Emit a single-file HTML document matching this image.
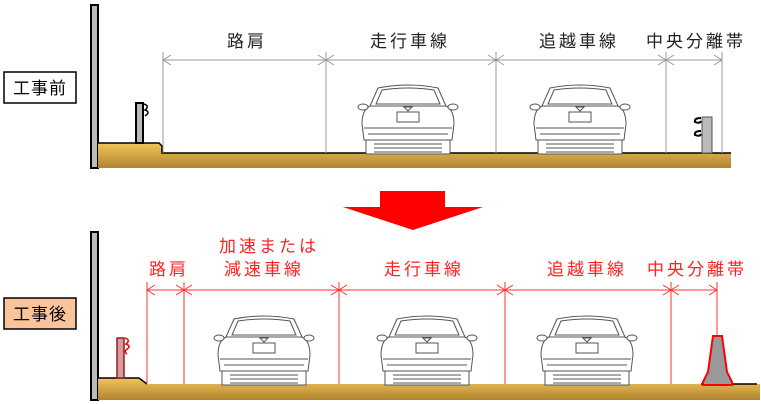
<!DOCTYPE html>
<html><head><meta charset="utf-8"><style>
body{margin:0;background:#fff;}
svg{display:block;font-family:"Liberation Sans","Noto Sans CJK JP",sans-serif;}
</style></head><body>
<svg width="761" height="404" viewBox="0 0 761 404" xmlns="http://www.w3.org/2000/svg">
<defs>
<linearGradient id="g" x1="0" y1="0" x2="0" y2="1"><stop offset="0" stop-color="#f2c45a"/><stop offset="1" stop-color="#b08430"/></linearGradient>
<g id="car" fill="none" stroke="#555" stroke-width="1">
<path d="M-30,-46 Q0,-52 30,-46 L38,-28 Q46,-24 46,-10 L44,6 L-44,6 L-46,-10 Q-46,-24 -38,-28 Z" fill="#fff"/>
<path d="M-26,-44 Q0,-48 26,-44 L32,-30 L-32,-30 Z"/>
<path d="M-38,-28 L38,-28"/>
<ellipse cx="-45" cy="-27" rx="5" ry="3" fill="#fff"/><ellipse cx="45" cy="-27" rx="5" ry="3" fill="#fff"/>
<rect x="-11" y="-22" width="22" height="10"/>
<path d="M-4,-27 L0,-23 L4,-27 Z"/>
<path d="M-44,-6 L44,-6 M-40,0 L40,0"/>
<rect x="-42" y="6" width="84" height="14" fill="#fff"/>
<path d="M-34,10 L34,10 M-34,14 L34,14 M-34,18 L34,18"/>
</g>
</defs>

<rect x="4" y="72" width="72" height="31" fill="#fff" stroke="#000" stroke-width="1.5"/>
<text x="40" y="94" font-size="17" text-anchor="middle" fill="#000" letter-spacing="1">工事前</text>
<rect x="91" y="5" width="7" height="163" fill="#bbb" stroke="#000" stroke-width="2"/>
<path d="M98,143 L159,143 L162,146 L162,153 L731,153 L731,168 L98,168 Z" fill="url(#g)"/>
<path d="M98,143 L159,143 L162,146 L162,153 L731,153" fill="none" stroke="#000" stroke-width="1.5"/>
<rect x="136" y="103" width="7" height="40" fill="#bbb" stroke="#000" stroke-width="2"/>
<path d="M144,104 q6,2 1,6 q6,2 0,6" fill="none" stroke="#000" stroke-width="1.5"/>
<g stroke="#999" stroke-width="1" fill="none">
<path d="M163,52V153 M326,52V153 M496,52V153 M666,52V153 M722,52V153"/>
<path d="M163,60H722"/>
<path d="M171,55L163,60L171,65 M318,55L326,60L318,65 M334,55L326,60L334,65 M488,55L496,60L488,65 M504,55L496,60L504,65 M658,55L666,60L658,65 M674,55L666,60L674,65 M714,55L722,60L714,65"/>
</g>
<g font-size="17" fill="#222" text-anchor="middle" letter-spacing="3">
<text x="247" y="47">路肩</text><text x="410" y="47">走行車線</text><text x="579" y="47">追越車線</text><text x="696" y="47">中央分離帯</text>
</g>
<use href="#car" x="408" y="134"/><use href="#car" x="580" y="134"/>
<rect x="702" y="117" width="10" height="36" fill="#bbb" stroke="#555"/>
<path d="M701,118 q-7,0 -6,4 q5,2 6,-1 M701,131 q-7,0 -6,4 q5,2 6,-1" fill="none" stroke="#000" stroke-width="2"/>

<path d="M380,191 L445,191 L445,207 L483,207 L413,230 L343,207 L380,207 Z" fill="#f00"/>

<rect x="4" y="298" width="72" height="31" fill="#f9c39b" stroke="#000" stroke-width="1.5"/>
<text x="40" y="320" font-size="17" text-anchor="middle" fill="#000" letter-spacing="1">工事後</text>
<rect x="91" y="232" width="7" height="168" fill="#bbb" stroke="#000" stroke-width="2"/>
<path d="M98,378 L139,378 L147,384 L760,384 L760,400 L98,400 Z" fill="url(#g)"/>
<path d="M98,378 L139,378 L147,384" fill="none" stroke="#000" stroke-width="1.5"/>
<path d="M701,384 L757,384" stroke="#000" stroke-width="1.5"/>
<rect x="117" y="338" width="7" height="40" fill="#d99" stroke="#822" stroke-width="1.5"/>
<path d="M125,338 q6,2 1,6 q6,2 0,6 q-2,2 1,4" fill="none" stroke="#e00" stroke-width="1.5"/>
<g stroke="#f33" stroke-width="1" fill="none">
<path d="M147,282V384 M184,282V384 M339,282V384 M505,282V384 M671,282V384 M717,282V336"/>
<path d="M147,290H717"/>
<path d="M155,285L147,290L155,295 M176,285L184,290L176,295 M192,285L184,290L192,295 M331,285L339,290L331,295 M347,285L339,290L347,295 M497,285L505,290L497,295 M513,285L505,290L513,295 M663,285L671,290L663,295 M679,285L671,290L679,295 M709,285L717,290L709,295"/>
</g>
<g font-size="17" fill="#f22" text-anchor="middle" letter-spacing="3">
<text x="169" y="275">路肩</text><text x="269" y="252">加速または</text><text x="264" y="275">減速車線</text>
<text x="424" y="275">走行車線</text><text x="587" y="275">追越車線</text><text x="697" y="275">中央分離帯</text>
</g>
<use href="#car" x="264" y="365"/><use href="#car" x="427" y="365"/><use href="#car" x="587" y="365"/>
<path d="M713,336 L722,336 L727,372 L732,382 L732,385 L703,385 L703,382 L708,372 Z" fill="#999" stroke="#f00" stroke-width="2"/>
</svg>
</body></html>
